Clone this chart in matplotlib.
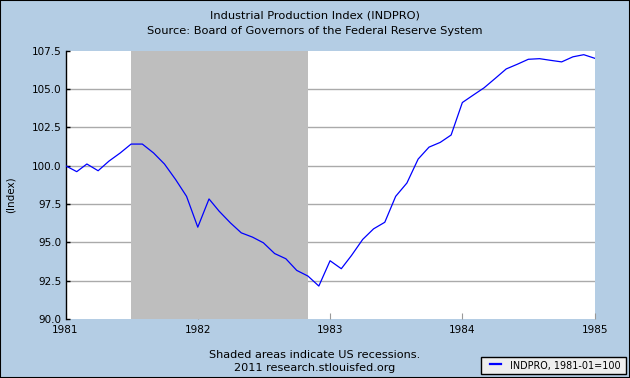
import matplotlib
matplotlib.use("Agg")
import matplotlib.pyplot as plt
from matplotlib.lines import Line2D
from matplotlib.patches import Rectangle
import pandas as pd

plt.rcParams['font.family'] = ['DejaVu Sans']

dates = pd.date_range("1981-01-01", "1985-01-01", freq="MS")
values = [100.00, 99.61, 100.11, 99.67, 100.30, 100.83, 101.41, 101.41, 100.83, 100.11,
          99.09, 98.00, 95.99, 97.83, 97.03, 96.27, 95.62, 95.34, 94.97, 94.27,
          93.93, 93.17, 92.80, 92.15, 93.80, 93.28, 94.14, 95.19, 95.88, 96.31,
          98.00, 98.87, 100.43, 101.21, 101.52, 102.00, 104.12, 104.62, 105.08, 105.70,
          106.31, 106.62, 106.94, 106.98, 106.87, 106.77, 107.10, 107.24, 107.00]
recession_start = "1981-07-01"
recession_end = "1982-11-01"
yticks = [90.0, 92.5, 95.0, 97.5, 100.0, 102.5, 105.0, 107.5]
xtick_years = ["1981", "1982", "1983", "1984", "1985"]

title1 = "Industrial Production Index (INDPRO)"
title2 = "Source: Board of Governors of the Federal Reserve System"
footer1 = "Shaded areas indicate US recessions."
footer2 = "2011 research.stlouisfed.org"
legend_label = "INDPRO, 1981-01=100"
ylabel = "(Index)"

W, H = 630, 378
BG = "#B4CDE4"
fig = plt.figure(figsize=(W/100, H/100), dpi=100, facecolor=BG)
ax = fig.add_axes([65.5/W, 1-319/H, (595-65.5)/W, (319-50.7)/H])
ax.set_facecolor("white")

xt = [pd.Timestamp(y + "-01-01") for y in xtick_years]
ax.set_xlim(xt[0], xt[-1])
ax.set_ylim(yticks[0], yticks[-1])

for yv in yticks[1:-1]:
    ax.axhline(yv, color="#AAAAAA", lw=1.0, zorder=1)
ax.axvspan(pd.Timestamp(recession_start), pd.Timestamp(recession_end), color="#BEBEBE", lw=0, zorder=2)
line, = ax.plot(dates, values, color="#0000FF", lw=0.9, zorder=3, label=legend_label)

ax.set_yticks(yticks)
ax.set_yticklabels([f"{v:.1f}" for v in yticks], fontsize=7.5)
ax.set_xticks(xt)
ax.set_xticklabels(xtick_years, fontsize=7.5)
ax.tick_params(axis="y", direction="in", length=3, width=1, color="black", pad=3)
ax.tick_params(axis="x", direction="in", length=4, width=0.8, color="#999999", pad=4)
for s in ["top", "right", "bottom"]:
    ax.spines[s].set_visible(False)
ax.spines["left"].set_color("black")
ax.spines["left"].set_linewidth(1)

fig.text(11/W, 1-195/H, ylabel, rotation=90, ha="center", va="center", fontsize=7.5)

fig.text(0.5, 1-16/H, title1, ha="center", va="center", fontsize=8.2)
fig.text(0.5, 1-31/H, title2, ha="center", va="center", fontsize=8.2)
fig.text(0.5, 1-355/H, footer1, ha="center", va="center", fontsize=8.1)
fig.text(0.5, 1-368/H, footer2, ha="center", va="center", fontsize=8.1)

# legend box
lx0, lx1, ly0, ly1 = 481.5, 626.5, 357.3, 374.3
fig.patches.append(Rectangle((lx0/W, 1-ly1/H), (lx1-lx0)/W, (ly1-ly0)/H,
                             transform=fig.transFigure, facecolor="#EEEEEE",
                             edgecolor="black", lw=1))
fig.lines.append(Line2D([490/W, 500.7/W], [1-363.5/H, 1-363.5/H],
                        transform=fig.transFigure, color="#0000FF", lw=1.6))
fig.text(510.5/W, 1-366/H, legend_label, ha="left", va="center", fontsize=6.9)

border = Rectangle((0, 0), 1, 1, transform=fig.transFigure, fill=False,
                   edgecolor="black", lw=1.5)
fig.patches.append(border)

fig.savefig("out.png", dpi=100, facecolor=BG)
